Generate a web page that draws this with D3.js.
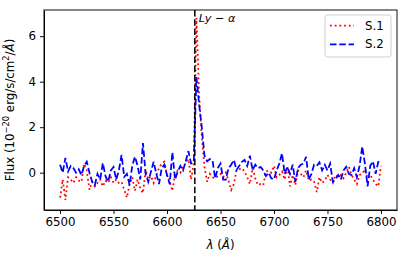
<!DOCTYPE html>
<html>
  <head>
    <meta charset="utf-8">
    <title>Ly-alpha spectrum</title>
<style>
  body { margin: 0; background-color: #fff; }
  svg { display: block; font-family: "DejaVu Sans", sans-serif; }
  .axis text { font-family: "DejaVu Sans", sans-serif; font-size: 11.8px; fill: #000; }
  .axis path, .axis line { stroke: #000; stroke-width: 0.95px; }
</style>
  </head>
  <body>
    <div id="viz"></div>

  <script src="https://d3js.org/d3.v7.min.js"></script>
  <script>

    // wavelength grid (Angstrom), one sample every 2.5 A
    var wavelengths = d3.range(6500, 6800.01, 2.5);

    // S.1 flux (1e-20 erg/s/cm2/A)
    var fluxS1 = [
      -1.1, -0.3, -1.2, -0.2, -0.3, -0.45, -0.2, -0.35, -0.4, 0.4,
      0.1, -0.75, -0.4, -0.6, -0.45, -0.3, -0.6, -0.35, -0.45, -0.2,
      -0.45, -0.3, -0.45, -0.4, -0.75, -1.1, -0.5, -0.2, -0.8, -0.3,
      -0.7, -0.9, 0.12, -0.3, -0.15, -0.45, -0.1, 0.2, 0.4, 0.48,
      -0.1, -0.4, -0.8, -0.05, 0.1, 0.0, 0.3, 0.4, 0.6, -0.3,
      0.4, 6.8, 3.4, 1.6, 0.26, -0.4, -0.05, -0.2, -0.25, -0.15,
      -0.05, -0.2, 0.0, -0.35, -0.76, -0.5, 0.12, 0.15, 0.2, 0.05,
      -0.2, -0.5, 0.2, -0.25, -0.55, -0.5, -0.55, 0.05, 0.1, 0.0,
      0.3, -0.2, -0.1, 0.05, -0.3, 0.3, -0.6, -0.1, -0.55, 0.1,
      -0.05, -0.2, 0.1, -0.35, -0.3, -0.4, -0.85, -0.2, -0.45, -0.35,
      -0.1, -0.3, -0.45, -0.1, -0.2, -0.1, -0.25, 0.0, 0.26, -0.1,
      -0.3, -0.5, -0.1, -0.05, 0.15, -0.25, -0.1, -0.3, -0.5, -0.6,
      0.3
    ];

    // S.2 flux
    var fluxS2 = [
      0.35, 0.0, 0.65, 0.05, 0.3, 0.2, 0.0, 0.15, -0.1, 0.3,
      0.48, 0.0, -0.4, -0.55, -0.05, -0.3, 0.42, -0.15, -0.4, 0.1,
      0.25, -0.3, 0.1, 0.78, -0.18, -0.05, -0.54, 0.3, 0.7, 0.3,
      -0.3, 1.3, -0.05, -0.4, 0.05, 0.48, -0.05, -0.5, 0.2, 0.35,
      -0.1, -0.5, 0.9, -0.3, 0.05, 0.3, 0.1, 0.5, 0.95, 0.4,
      0.45, 4.2, 3.0, 2.0, 0.75, 0.5, 0.6, 0.55, -0.25, 0.2,
      0.4, -0.3, -0.3, 0.2, 0.35, 0.56, 0.12, 0.3, 0.48, 0.56,
      0.3, 0.75, 0.12, 0.35, 0.2, 0.25, 0.1, -0.15, 0.0, -0.25,
      -0.3, 0.1, 0.4, 0.85, -0.05, 0.25, -0.05, 0.35, -0.4, 0.2,
      0.35, 0.4, 0.7, -0.3, -0.05, 0.35, 0.3, 0.45, 0.1, 0.35,
      0.1, 0.4, -0.4, -0.3, -0.1, -0.3, 0.1, 0.26, -0.05, -0.1,
      0.2, -0.2, 0.3, 1.15, 0.4, -0.6, 0.3, 0.5, -0.05, 0.48,
      0.48
    ];

    var seriesNames = ["S.1", "S.2"];
    var xTicks = [6500, 6550, 6600, 6650, 6700, 6750, 6800];
    var yTicks = [0, 2, 4, 6];
    var lyaWave = 6626;

    (function() {

      var W = 407, H = 258;
      var margin = {top: 10, right: 10, bottom: 48, left: 44};
      var width = W - margin.left - margin.right,
          height = H - margin.top - margin.bottom;

      var x = d3.scaleLinear().domain([6485, 6815]).range([0, width]);
      var y = d3.scaleLinear().domain([-1.64, 7.15]).range([height, 0]);

      var svg = d3.select("#viz").append("svg")
          .attr("width", W)
          .attr("height", H)
        .append("g")
          .attr("transform", "translate(" + margin.left + "," + margin.top + ")");

      var styles = [
        {name: seriesNames[0], data: fluxS1, color: "#ff0000", dash: "1.8,2.9"},
        {name: seriesNames[1], data: fluxS2, color: "#0000ff", dash: "6.5,2.8"}
      ];

      var line = d3.line()
          .x(function(d, i) { return x(wavelengths[i]); })
          .y(function(d) { return y(d); });

      styles.forEach(function(s) {
        svg.append("path")
            .datum(s.data)
            .attr("fill", "none")
            .attr("stroke", s.color)
            .attr("stroke-width", 1.77)
            .attr("stroke-dasharray", s.dash)
            .attr("d", line);
      });

      // Ly-alpha marker
      svg.append("line")
          .attr("x1", x(lyaWave)).attr("x2", x(lyaWave))
          .attr("y1", 0).attr("y2", height)
          .attr("stroke", "#000")
          .attr("stroke-width", 1.5)
          .attr("stroke-dasharray", "6.5,2.8");

      var lya = svg.append("text")
          .attr("x", x(lyaWave) + 4)
          .attr("y", 12)
          .style("font-size", "11.3px");
      lya.append("tspan").style("font-style", "italic").text("Ly");
      lya.append("tspan").text(" \u2212 ");
      lya.append("tspan").style("font-style", "italic").text("\u03b1");

      // axes
      svg.append("g")
          .attr("class", "axis")
          .attr("transform", "translate(0," + height + ")")
          .call(d3.axisBottom(x).tickValues(xTicks).tickFormat(d3.format("d")).tickSizeInner(4).tickSizeOuter(0).tickPadding(4));

      svg.append("g")
          .attr("class", "axis")
          .call(d3.axisLeft(y).tickValues(yTicks).tickFormat(d3.format("d")).tickSizeInner(4).tickSizeOuter(0).tickPadding(4));

      // frame
      svg.append("rect")
          .attr("width", width)
          .attr("height", height)
          .attr("fill", "none")
          .attr("stroke", "#000")
          .attr("stroke-width", 0.95);

      // labels
      var ylab = svg.append("text")
          .attr("transform", "translate(-30," + (height / 2) + ") rotate(-90)")
          .style("text-anchor", "middle")
          .style("font-size", "11.8px");
      ylab.append("tspan").text("Flux (10");
      ylab.append("tspan").attr("dy", -5).style("font-size", "8.3px").text("\u221220");
      ylab.append("tspan").attr("dy", 5).text(" erg/s/cm");
      ylab.append("tspan").attr("dy", -5).style("font-size", "8.3px").text("2");
      ylab.append("tspan").attr("dy", 5).text("/");
      ylab.append("tspan").style("font-style", "italic").text("\u00c5");
      ylab.append("tspan").text(")");

      var xlab = svg.append("text")
          .attr("x", width / 2)
          .attr("y", height + 39)
          .style("text-anchor", "middle")
          .style("font-size", "11.8px");
      xlab.append("tspan").style("font-style", "italic").text("\u03bb");
      xlab.append("tspan").text(" (");
      xlab.append("tspan").style("font-style", "italic").text("\u00c5");
      xlab.append("tspan").text(")");

      // legend
      var legend = svg.append("g")
          .attr("transform", "translate(" + (width - 72) + ",5)");

      legend.append("rect")
          .attr("width", 66)
          .attr("height", 42)
          .attr("rx", 2.5)
          .attr("fill", "#fff")
          .attr("fill-opacity", 0.8)
          .attr("stroke", "#cccccc")
          .attr("stroke-width", 0.95);

      var items = legend.selectAll(".legend-item")
          .data(styles)
        .enter().append("g")
          .attr("class", "legend-item")
          .attr("transform", function(d, i) { return "translate(0," + (10.7 + i * 18.6) + ")"; });

      items.append("line")
          .attr("x1", 5).attr("x2", 29)
          .attr("stroke", function(d) { return d.color; })
          .attr("stroke-width", 1.77)
          .attr("stroke-dasharray", function(d) { return d.dash; });

      items.append("text")
          .attr("x", 40)
          .attr("dy", "0.35em")
          .style("font-size", "11.8px")
          .text(function(d) { return d.name; });

    })();

  </script>
  </body>
</html>
